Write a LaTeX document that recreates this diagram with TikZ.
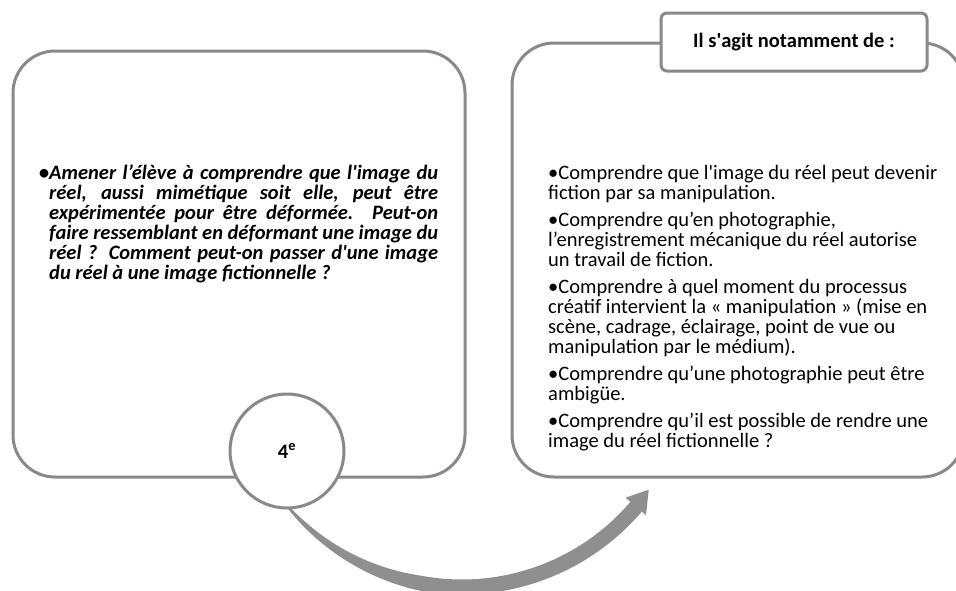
\documentclass[tikz,border=0pt]{standalone}
\usepackage{fontspec}
\setmainfont{Carlito}
\usetikzlibrary{calc}
\definecolor{bordergray}{RGB}{137,137,137}
\definecolor{arrowgray}{RGB}{143,143,143}
\newcommand{\sq}{\textquotesingle}
\newcommand{\jl}[1]{\makebox[389pt][s]{#1}}
\begin{document}
\begin{tikzpicture}[x=1pt,y=-1pt,
  panel/.style={draw=bordergray, line width=3pt, fill=white, rounded corners=42pt, inner sep=0pt},
  tagbox/.style={draw=bordergray, line width=3pt, fill=white, rounded corners=6pt, minimum width=266pt, minimum height=58pt, font=\fontsize{20.5}{20}\selectfont\bfseries},
  roundel/.style={circle, draw=bordergray, line width=3pt, fill=white, minimum size=114pt, inner sep=0pt, font=\fontsize{20.5}{20}\selectfont\bfseries},
  bodytext/.style={anchor=north west, align=left, inner sep=0pt, font=\fontsize{20.5}{20}\selectfont},
  arrowfill/.style={fill=arrowgray}]
\useasboundingbox (0,0) rectangle (956,590);

\node[panel, minimum width=452pt, minimum height=426pt] (lbox) at (239,264) {};
\node[panel, minimum width=452pt, minimum height=434pt] (rbox) at (738,260) {};
\node[tagbox] (tag) at (794,42) {Il s\sq agit notamment de :};

\coordinate (C) at (462,358);
\fill[arrowfill] plot[domain=141:40,samples=60]
   ({462+(229+0.5*min(15,2+(141-\x)*0.32))*cos(\x)},{358+(229+0.5*min(15,2+(141-\x)*0.32))*sin(\x)})
   -- plot[domain=40:141,samples=60]
   ({462+(229-0.5*min(15,2+(141-\x)*0.32))*cos(\x)},{358+(229-0.5*min(15,2+(141-\x)*0.32))*sin(\x)})
   -- cycle;
\coordinate (hb1) at ([shift={(40.5:215)}]C);
\coordinate (hb2) at ([shift={(40.5:242)}]C);
\coordinate (tip) at ([shift={(35.2:228.5)}]C);
\fill[arrowfill] (hb1) -- (tip) -- (hb2) -- cycle;

\node[roundel] (circ) at (287,451) {4\textsuperscript{e}};

\node[bodytext, font=\fontsize{20.5}{20}\selectfont\bfseries\itshape] (ltext) at (49,165) {%
\llap{•}\jl{Amener l’élève à comprendre que l\sq image du}\\
\jl{réel, aussi mimétique soit elle, peut être}\\
\jl{expérimentée pour être déformée. Peut-on}\\
\jl{faire ressemblant en déformant une image du}\\
\jl{réel ? Comment peut-on passer d\sq une image}\\
du réel à une image fictionnelle ?};

\node[bodytext] (rtext) at (548,165) {%
•Comprendre que l\sq image du réel peut devenir\\
fiction par sa manipulation.\\[7pt]
•Comprendre qu’en photographie,\\
l’enregistrement mécanique du réel autorise\\
un travail de fiction.\\[7pt]
•Comprendre à quel moment du processus\\
créatif intervient la « manipulation » (mise en\\
scène, cadrage, éclairage, point de vue ou\\
manipulation par le médium).\\[7pt]
•Comprendre qu’une photographie peut être\\
ambigüe.\\[7pt]
•Comprendre qu’il est possible de rendre une\\
image du réel fictionnelle ?};
\end{tikzpicture}
\end{document}
